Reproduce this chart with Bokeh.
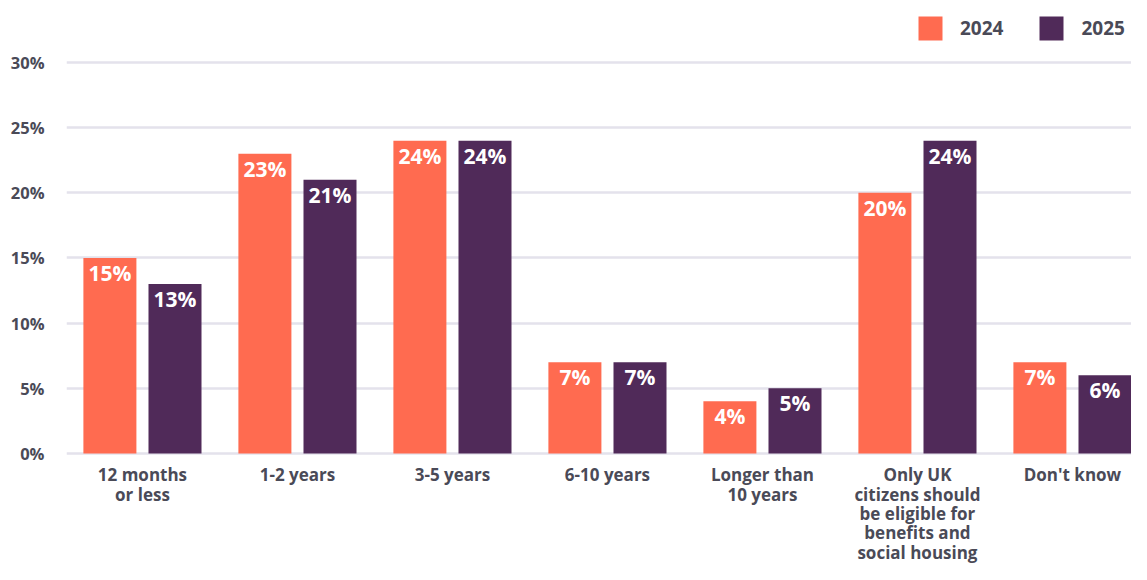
from bokeh.plotting import figure
from bokeh.models import (ColumnDataSource, Range1d, FixedTicker, PrintfTickFormatter,
                          Legend, LegendItem, LabelSet)
from bokeh.core.properties import value
from bokeh.embed import file_html
from bokeh.resources import INLINE

categories = ["12 months\nor less", "1-2 years", "3-5 years", "6-10 years",
              "Longer than\n10 years",
              "Only UK\ncitizens should\nbe eligible for\nbenefits and\nsocial housing",
              "Don't know"]
values_2024 = [15, 23, 24, 7, 4, 20, 7]
values_2025 = [13, 21, 24, 7, 5, 24, 6]
series_names = ["2024", "2025"]
y_ticks = [0, 5, 10, 15, 20, 25, 30]

C2024 = "#FF6B50"
C2025 = "#502A59"
TXT = "#4A4A57"
GRID = "#E4E2EC"
FONT = "Open Sans"

W, H = 1131, 564
PX = 13.033  # pixels per percentage point
p = figure(width=W, height=H, output_backend="svg", toolbar_location=None,
           x_range=Range1d(-0.49, -0.49 + 1065 / 155.0),
           y_range=Range1d(-(H - 453) / PX, 30 + 62 / PX),
           min_border_left=66, min_border_right=0, min_border_top=0, min_border_bottom=0)
p.outline_line_color = None
p.background_fill_color = "white"
p.border_fill_color = "white"

xs = list(range(len(categories)))
off = 0.21
bw = 0.342
src = ColumnDataSource(dict(
    x24=[x - off for x in xs], x25=[x + off for x in xs],
    v24=values_2024, v25=values_2025,
    l24=[f"{v}%" for v in values_2024], l25=[f"{v}%" for v in values_2025]))

r24 = p.vbar(x="x24", top="v24", width=bw, source=src, fill_color=C2024, line_color=None)
r25 = p.vbar(x="x25", top="v25", width=bw, source=src, fill_color=C2025, line_color=None)

for xcol, vcol, lcol in (("x24", "v24", "l24"), ("x25", "v25", "l25")):
    ls = LabelSet(x=xcol, y=vcol, text=lcol, source=src, text_align="center",
                  text_baseline="top", y_offset=-1, text_color="white",
                  text_font=value(FONT), text_font_style="bold", text_font_size="21px")
    p.add_layout(ls)

# category labels under the baseline
cat_src = ColumnDataSource(dict(x=xs, y=[0] * len(xs), t=categories))
p.text(x="x", y="y", text="t", source=cat_src, text_align="center", text_baseline="top",
       y_offset=10, text_color=TXT, text_font=value(FONT), text_font_style="bold",
       text_font_size="17px", text_line_height=0.84)

# axes
p.xaxis.visible = False
p.yaxis.ticker = FixedTicker(ticks=y_ticks)
p.yaxis.formatter = PrintfTickFormatter(format="%d%%")
p.yaxis.axis_line_color = None
p.yaxis.major_tick_line_color = None
p.yaxis.minor_tick_line_color = None
p.yaxis.major_label_text_font = FONT
p.yaxis.major_label_text_font_style = "bold"
p.yaxis.major_label_text_font_size = "16.5px"
p.yaxis.major_label_text_color = TXT
p.yaxis.major_label_standoff = 16

p.xgrid.grid_line_color = None
p.ygrid.ticker = FixedTicker(ticks=y_ticks)
p.ygrid.grid_line_color = GRID
p.ygrid.grid_line_width = 2.5

legend = Legend(items=[LegendItem(label=series_names[0], renderers=[r24]),
                       LegendItem(label=series_names[1], renderers=[r25])],
                orientation="horizontal", location=(849, 521),
                glyph_width=30, glyph_height=30, label_standoff=15, spacing=33,
                padding=0, margin=0, border_line_alpha=0, background_fill_alpha=0,
                label_text_font=FONT, label_text_font_style="bold",
                label_text_font_size="19px", label_text_color=TXT)
p.add_layout(legend, "center")

open("out.html", "w").write(file_html(p, INLINE))
